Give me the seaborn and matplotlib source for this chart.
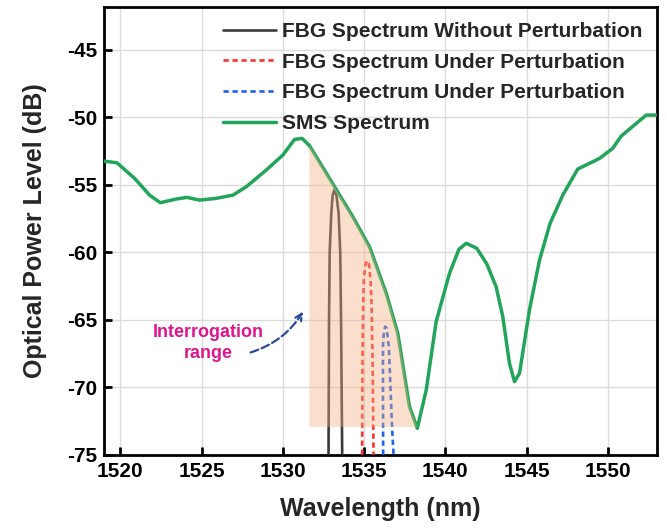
import numpy as np
import matplotlib
matplotlib.use("Agg")
import matplotlib.pyplot as plt
import seaborn as sns

# SMS spectrum (wavelength in nm, power in dB)
sms_x = [1518.97, 1519.79, 1520.88, 1521.80, 1522.46, 1523.44, 1524.10, 1524.88,
         1525.90, 1526.93, 1527.75, 1528.98, 1530.00, 1530.72, 1531.19, 1531.64,
         1533.18, 1534.30, 1535.33, 1536.36, 1537.07, 1537.79, 1538.27, 1538.82,
         1539.43, 1540.25, 1540.83, 1541.28, 1541.93, 1542.55, 1543.12, 1543.53,
         1543.94, 1544.25, 1544.56, 1545.17, 1545.79, 1546.44, 1547.22, 1548.14,
         1549.48, 1550.29, 1550.81, 1552.35, 1552.97]
sms_y = [-53.24, -53.36, -54.52, -55.76, -56.32, -56.05, -55.93, -56.13,
         -56.00, -55.76, -55.14, -53.90, -52.79, -51.63, -51.56, -52.10,
         -55.14, -57.36, -59.59, -63.04, -66.00, -71.44, -73.04, -70.20,
         -65.14, -61.56, -59.78, -59.33, -59.70, -60.87, -62.55, -64.77,
         -68.22, -69.58, -68.96, -64.27, -60.57, -57.85, -55.76, -53.83,
         -53.04, -52.30, -51.39, -49.83, -49.83]

# FBG spectrum without perturbation
fbg0_x = [1532.81, 1532.84, 1532.88, 1532.98, 1533.06, 1533.18, 1533.30,
          1533.43, 1533.53, 1533.58, 1533.65]
fbg0_y = [-75.0, -65.0, -60.0, -57.1, -55.8, -55.33, -55.8, -57.1, -60.0,
          -65.0, -75.0]

# FBG spectrum under perturbation (red)
fbg1_x = [1534.88, 1534.90, 1534.94, 1534.98, 1535.08, 1535.19, 1535.30,
          1535.39, 1535.46, 1535.52, 1535.58]
fbg1_y = [-75.0, -68.0, -64.0, -62.05, -60.9, -60.62, -60.9, -62.05, -64.0,
          -68.0, -75.0]

# FBG spectrum under perturbation (blue)
fbg2_x = [1536.17, 1536.16, 1536.16, 1536.22, 1536.30, 1536.38, 1536.52,
          1536.62, 1536.72, 1536.81]
fbg2_y = [-75.0, -70.0, -67.0, -65.8, -65.5, -65.6, -67.0, -70.0, -73.0, -75.0]

# interrogation range
range_lo, range_hi = 1531.6, 1538.2
range_floor = -72.9

xticks = [1520, 1525, 1530, 1535, 1540, 1545, 1550]
yticks = [-75, -70, -65, -60, -55, -50, -45]

sns.set_theme(style="whitegrid")
plt.rcParams["font.family"] = ["Liberation Sans", "DejaVu Sans"]
plt.rcParams["font.weight"] = "bold"
plt.rcParams["axes.unicode_minus"] = False

fig, ax = plt.subplots(figsize=(6.67, 5.3), dpi=100)
fig.subplots_adjust(left=0.156, right=0.9846, top=0.986, bottom=0.142)

dash = (0, (2, 1.4))
sns.lineplot(x=fbg0_x, y=fbg0_y, sort=False, estimator=None, color="#3a3a3a",
             lw=1.9, label="FBG Spectrum Without Perturbation", ax=ax, zorder=3)
sns.lineplot(x=fbg1_x, y=fbg1_y, sort=False, estimator=None, color="#ff3030",
             lw=1.9, linestyle=dash, label="FBG Spectrum Under Perturbation",
             ax=ax, zorder=3)
sns.lineplot(x=fbg2_x, y=fbg2_y, sort=False, estimator=None, color="#1e62f0",
             lw=1.9, linestyle=dash, label="FBG Spectrum Under Perturbation",
             ax=ax, zorder=3)
sns.lineplot(x=sms_x, y=sms_y, sort=False, estimator=None, color="#22a55b",
             lw=2.5, label="SMS Spectrum", ax=ax, zorder=3)

# shaded interrogation range, drawn over the lines
xs = np.linspace(range_lo, range_hi, 300)
ys = np.interp(xs, sms_x, sms_y)
ax.fill_between(xs, range_floor, np.maximum(ys, range_floor),
                color="#f4b183", alpha=0.4, lw=0, zorder=4)

ax.text(1525.44, -66.72, "Interrogation\nrange", color="#e0168c",
        fontsize=13, fontweight="bold", ha="center", va="center",
        linespacing=1.35)
ax.annotate("", xy=(1531.33, -64.22), xytext=(1527.85, -67.48),
            arrowprops=dict(arrowstyle="->", linestyle="--", color="#2b4a9c",
                            lw=1.6, connectionstyle="arc3,rad=0.2"))

ax.set_xlim(1519, 1553)
ax.set_ylim(-75, -41.85)
ax.set_xticks(xticks)
ax.set_yticks(yticks)
ax.set_xlabel("Wavelength (nm)", fontsize=18, fontweight="bold", labelpad=12)
ax.set_ylabel("Optical Power Level (dB)", fontsize=18, fontweight="bold",
              labelpad=14)

ax.grid(True, color="#dcdcdc", lw=1)
for sp in ax.spines.values():
    sp.set_color("black")
    sp.set_linewidth(2)
ax.tick_params(axis="both", direction="in", length=6, width=2, labelsize=15,
               colors="black", pad=5, bottom=True, left=True)

leg = ax.legend(loc="upper right", frameon=False, fontsize=15,
                handlelength=2.5, handletextpad=0.3, labelspacing=0.56,
                borderaxespad=0.3)

fig.savefig("out.png", dpi=100)
